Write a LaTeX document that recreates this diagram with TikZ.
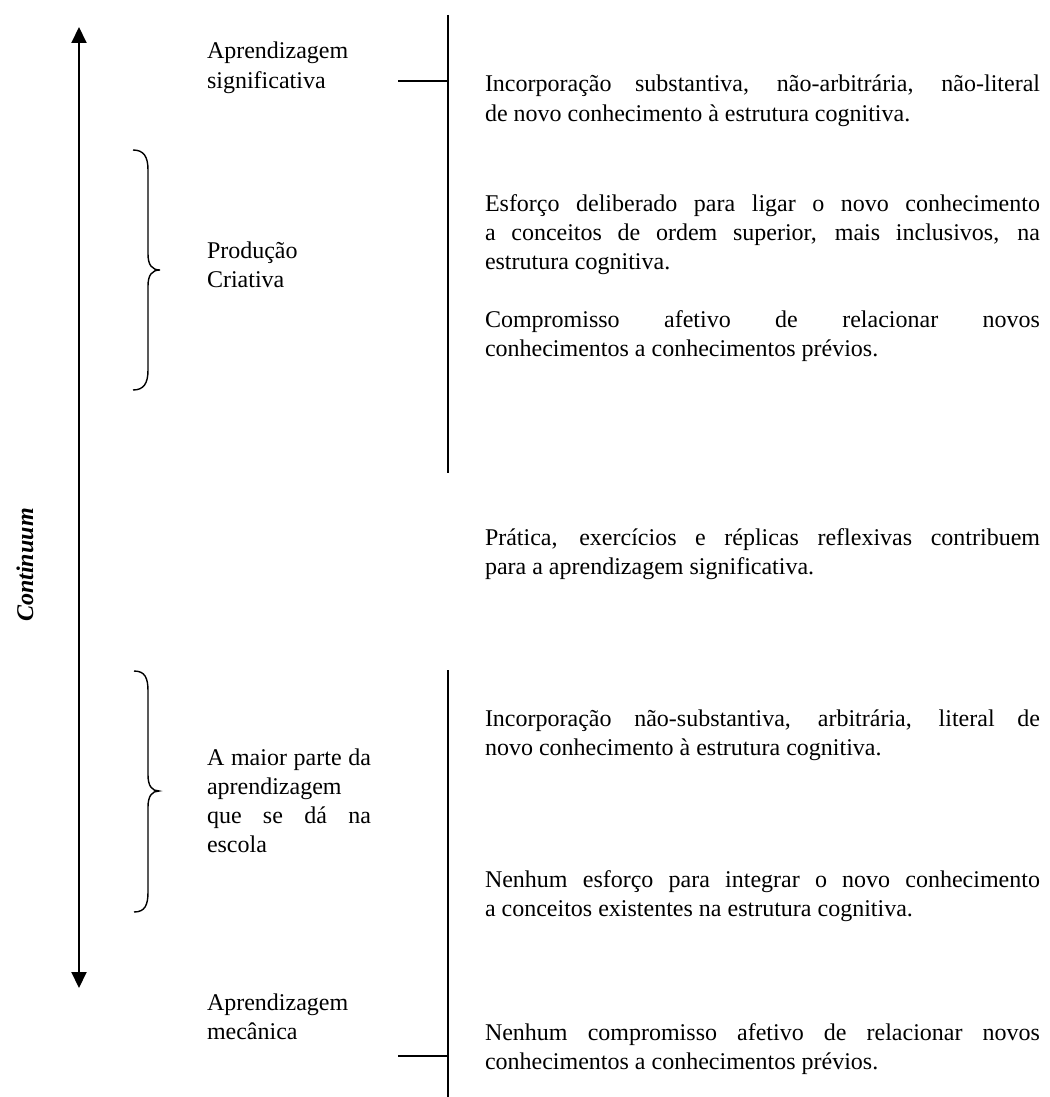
\documentclass[tikz,border=0pt]{standalone}
\usepackage{fontspec}
\setmainfont{Liberation Serif}
\usetikzlibrary{arrows.meta}

% one typeset line of a block: stretched to the column, or at natural width
\newcommand{\fullln}[1]{\hbox to 555pt{#1}}
\newcommand{\leftfull}[1]{\hbox to 164pt{#1}}
\newcommand{\plainln}[1]{\hbox{#1}}

\tikzset{
  txt/.style={anchor=base west, inner sep=0pt, outer sep=0pt,
              font=\fontsize{24}{29.3}\selectfont},
  rule/.style={line width=1.4pt, line cap=butt},
  brace/.style={line width=1.4pt},
  axis/.style={line width=2pt,
               {Triangle[length=16pt,width=15pt]}-{Triangle[length=16pt,width=15pt]}}
}

\begin{document}
\begin{tikzpicture}[x=1pt, y=-1pt]
\useasboundingbox (0,0) rectangle (1049,1097);

% the continuum axis
\coordinate (axtop) at (79,27);
\coordinate (axbot) at (79,988);
\draw[axis] (axbot) -- (axtop);
\node[rotate=90, anchor=base, inner sep=0pt,
      font=\fontsize{24}{29}\selectfont\bfseries\itshape] (cont) at (33,565) {Continuum};

% left-hand labels
\node[txt] (signif) at (207,59) {\vtop{\plainln{Aprendizagem}\plainln{significativa}}};
\node[txt] (criat) at (207,258) {\vtop{\plainln{Produção}\plainln{Criativa}}};
\node[txt] (escola) at (207,765) {\vtop{\leftfull{A maior parte da}\plainln{aprendizagem}\leftfull{que se dá na}\plainln{escola}}};
\node[txt] (mecan) at (207,1010) {\vtop{\plainln{Aprendizagem}\plainln{mecânica}}};

% braces
\draw[brace] (133,150) .. controls (144,150) and (148,157) .. (148,170)
  -- (148,254) .. controls (148,265) and (152,270) .. (160,270)
  .. controls (152,270) and (148,275) .. (148,286)
  -- (148,370) .. controls (148,383) and (144,390) .. (133,390);
\draw[brace] (134,671) .. controls (145,671) and (148,678) .. (148,691)
  -- (148,775) .. controls (148,786) and (152,791) .. (159,791)
  .. controls (152,791) and (148,796) .. (148,807)
  -- (148,892) .. controls (148,905) and (145,912) .. (134,912);

% vertical rules with their ticks
\coordinate (uptop) at (448,15);
\coordinate (upbot) at (448,473);
\coordinate (uptick) at (448,81);
\coordinate (uptickend) at (398,81);
\draw[rule] (uptop) -- (upbot);
\draw[rule] (uptickend) -- (uptick);

\coordinate (lotop) at (448,670);
\coordinate (lobot) at (448,1097);
\coordinate (lotick) at (448,1056);
\coordinate (lotickend) at (398,1056);
\draw[rule] (lotop) -- (lobot);
\draw[rule] (lotickend) -- (lotick);

% right-hand descriptions
\node[txt] (r1) at (485,92) {\vtop{%
  \fullln{Incorporação substantiva, não-arbitrária, não-literal}%
  \plainln{de novo conhecimento à estrutura cognitiva.}}};
\node[txt] (r2) at (485,211) {\vtop{%
  \fullln{Esforço deliberado para ligar o novo conhecimento}%
  \fullln{a conceitos de ordem superior, mais inclusivos, na}%
  \plainln{estrutura cognitiva.}}};
\node[txt] (r3) at (485,327) {\vtop{%
  \fullln{Compromisso afetivo de relacionar novos}%
  \plainln{conhecimentos a conhecimentos prévios.}}};
\node[txt] (r4) at (485,545) {\vtop{%
  \fullln{Prática, exercícios e réplicas reflexivas contribuem}%
  \plainln{para a aprendizagem significativa.}}};
\node[txt] (r5) at (485,726) {\vtop{%
  \fullln{Incorporação não-substantiva, arbitrária, literal de}%
  \plainln{novo conhecimento à estrutura cognitiva.}}};
\node[txt] (r6) at (485,887) {\vtop{%
  \fullln{Nenhum esforço para integrar o novo conhecimento}%
  \plainln{a conceitos existentes na estrutura cognitiva.}}};
\node[txt] (r7) at (485,1040) {\vtop{%
  \fullln{Nenhum compromisso afetivo de relacionar novos}%
  \plainln{conhecimentos a conhecimentos prévios.}}};
\end{tikzpicture}
\end{document}
